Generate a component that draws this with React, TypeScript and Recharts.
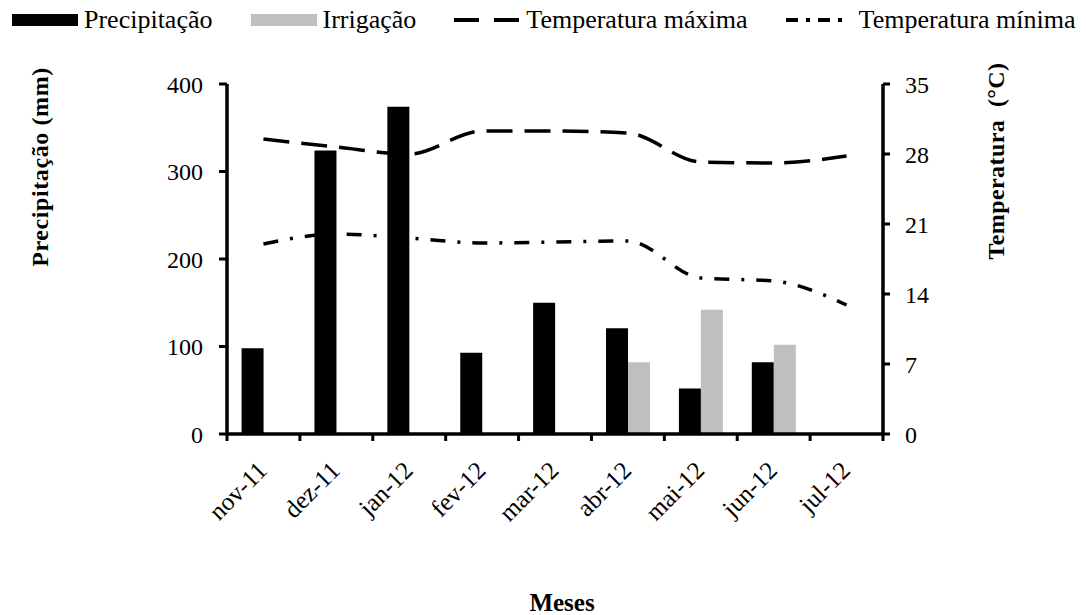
import React from 'react';
import { ComposedChart, Bar, Line, XAxis, YAxis } from 'recharts';

const months = ['nov-11', 'dez-11', 'jan-12', 'fev-12', 'mar-12', 'abr-12', 'mai-12', 'jun-12', 'jul-12'];
const precipitacao = [98, 324, 374, 93, 150, 121, 52, 82, null];
const irrigacao = [null, null, null, null, null, 82, 142, 102, null];
const tempMax = [29.5, 28.7, 28.0, 30.3, 30.3, 30.1, 27.2, 27.1, 27.8];
const tempMin = [19.0, 20.0, 19.6, 19.1, 19.2, 19.3, 15.6, 15.3, 12.9];

const precipTicks = [0, 100, 200, 300, 400];
const tempTicks = [0, 7, 14, 21, 28, 35];

const W = 1086;
const H = 615;
const LEFT_W = 227;
const RIGHT_W = 203;
const TOP = 84;
const XAXIS_H = 181;
const BAND = (W - LEFT_W - RIGHT_W) / months.length;
const FONT = '"Liberation Serif", "Times New Roman", serif';

const data = months.map((m, i) => ({
  month: m,
  precip: precipitacao[i],
  irrig: irrigacao[i],
  tmax: tempMax[i],
  tmin: tempMin[i],
}));

const legendItems = [
  { name: 'Precipitação', kind: 'rect', color: '#000', w: 66, gap: 6 },
  { name: 'Irrigação', kind: 'rect', color: '#bfbfbf', w: 66, gap: 6 },
  { name: 'Temperatura máxima', kind: 'line', dash: '25 15', w: 66, gap: 6 },
  { name: 'Temperatura mínima', kind: 'line', dash: '12 8 4 8', w: 56, gap: 17 },
];

const MonthTick = (props: any) => {
  const { x, y, payload, index } = props;
  const half = BAND / 2;
  const ax = x + 5;
  const ay = y + 38;
  return (
    <g>
      <line x1={x - half} x2={x - half} y1={y} y2={y + 7} stroke="#000" strokeWidth={3} />
      {index === months.length - 1 && (
        <line x1={x + half} x2={x + half} y1={y} y2={y + 7} stroke="#000" strokeWidth={3} />
      )}
      <text
        x={ax}
        y={ay}
        textAnchor="end"
        transform={`rotate(-45, ${ax}, ${ay})`}
        fontFamily={FONT}
        fontSize={25}
        fill="#000"
      >
        {payload.value}
      </text>
    </g>
  );
};

const LeftTitle = ({ viewBox }: any) => {
  const cx = viewBox.x + 40;
  const cy = viewBox.y + 83;
  return (
    <text x={cx} y={cy} transform={`rotate(-90, ${cx}, ${cy})`} textAnchor="middle" dominantBaseline="central"
      fontFamily={FONT} fontSize={24} fontWeight="bold" letterSpacing={0.6} fill="#000">
      Precipitação (mm)
    </text>
  );
};

const RightTitle = ({ viewBox }: any) => {
  const cx = viewBox.x + 113;
  const cy = viewBox.y + 77;
  return (
    <text x={cx} y={cy} transform={`rotate(-90, ${cx}, ${cy})`} textAnchor="middle" dominantBaseline="central"
      fontFamily={FONT} fontSize={24} fontWeight="bold" letterSpacing={0.4} fill="#000" style={{ whiteSpace: 'pre' }}>
      {'Temperatura  (°C)'}
    </text>
  );
};

const BottomTitle = ({ viewBox }: any) => (
  <text x={viewBox.x + 335} y={viewBox.y + 177} textAnchor="middle"
    fontFamily={FONT} fontSize={25} fontWeight="bold" fill="#000">
    Meses
  </text>
);

export default function App() {
  return (
    <div style={{ position: 'absolute', left: 0, top: 0, width: W, height: H, background: '#fff' }}>
      <div style={{ position: 'absolute', left: 12, top: 5, display: 'flex', alignItems: 'center', gap: 38, fontFamily: FONT, fontSize: 26 }}>
        {legendItems.map((it, i) => (
          <div key={i} style={{ display: 'flex', alignItems: 'center' }}>
            <svg width={it.w} height={14} style={{ marginRight: it.gap }}>
              {it.kind === 'rect' ? (
                <rect x={0} y={1} width={it.w} height={12} fill={it.color} />
              ) : (
                <line x1={0} x2={it.w} y1={7} y2={7} stroke="#000" strokeWidth={4} strokeDasharray={it.dash} />
              )}
            </svg>
            <span>{it.name}</span>
          </div>
        ))}
      </div>
      <ComposedChart width={W} height={H} data={data} margin={{ top: TOP, right: 0, bottom: 0, left: 0 }}
        barCategoryGap="20%" barGap={0}>
        <XAxis dataKey="month" height={XAXIS_H} interval={0} tickLine={false} tickSize={0} tickMargin={0}
          axisLine={{ stroke: '#000', strokeWidth: 3.5 }} tick={<MonthTick />} label={<BottomTitle />} />
        <YAxis yAxisId="left" width={LEFT_W} domain={[0, 400]} ticks={precipTicks} interval={0}
          axisLine={{ stroke: '#000', strokeWidth: 3.5 }} tickLine={{ stroke: '#000', strokeWidth: 3 }}
          tickSize={8} tickMargin={16} tick={{ fill: '#000', fontFamily: FONT, fontSize: 24 }}
          label={<LeftTitle />} />
        <YAxis yAxisId="right" orientation="right" width={RIGHT_W} domain={[0, 35]} ticks={tempTicks} interval={0}
          axisLine={{ stroke: '#000', strokeWidth: 3.5 }} tickLine={{ stroke: '#000', strokeWidth: 3 }}
          tickSize={7} tickMargin={15} tick={{ fill: '#000', fontFamily: FONT, fontSize: 24 }}
          label={<RightTitle />} />
        <Bar yAxisId="left" dataKey="precip" name="Precipitação" fill="#000" isAnimationActive={false} />
        <Bar yAxisId="left" dataKey="irrig" name="Irrigação" fill="#bfbfbf" isAnimationActive={false} />
        <Line yAxisId="right" type="monotone" dataKey="tmax" name="Temperatura máxima" stroke="#000" strokeWidth={3.5}
          strokeDasharray="26 12" dot={false} activeDot={false} isAnimationActive={false} />
        <Line yAxisId="right" type="monotone" dataKey="tmin" name="Temperatura mínima" stroke="#000" strokeWidth={3.5}
          strokeDasharray="15 12 3 12" dot={false} activeDot={false} isAnimationActive={false} />
      </ComposedChart>
    </div>
  );
}
